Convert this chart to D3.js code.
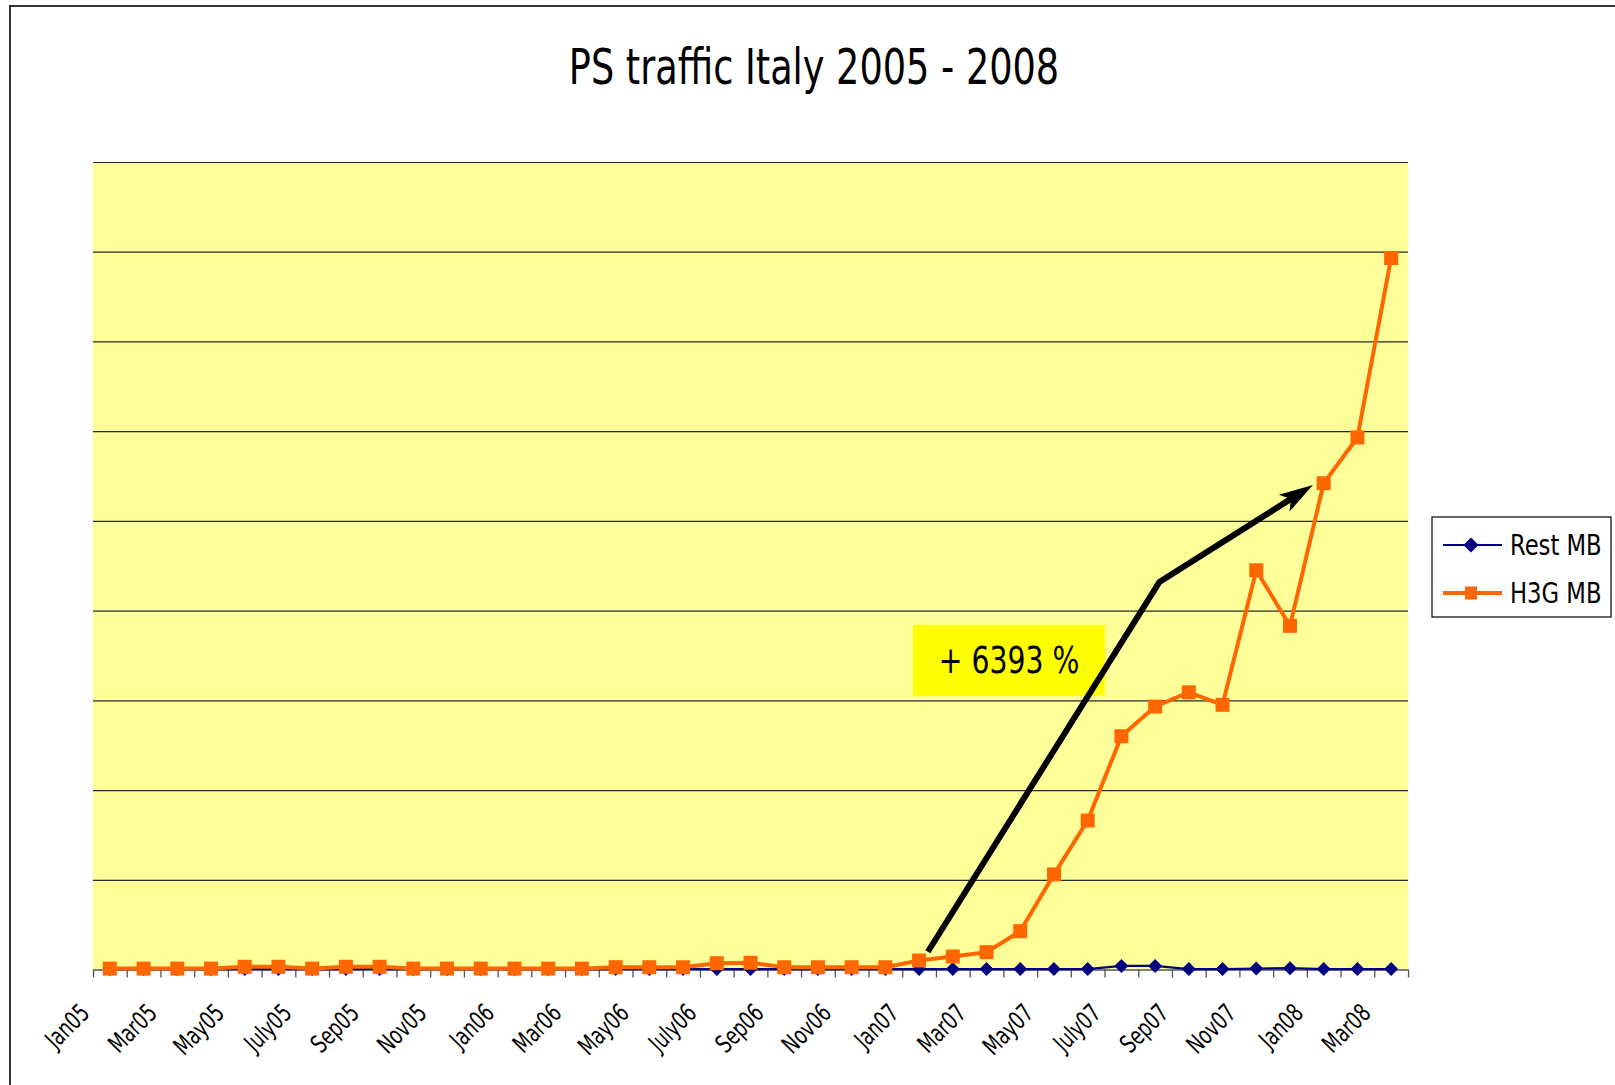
<!DOCTYPE html>
<html>
<head>
<meta charset="utf-8">
<script src="https://cdn.jsdelivr.net/npm/d3@7"></script>
<style>
  html, body { margin: 0; padding: 0; background: #fff; }
  svg { display: block; }
  text { font-family: 'Liberation Sans Narrow', 'DejaVu Sans Condensed', 'Arial Narrow', sans-serif; }
</style>
</head>
<body>
<svg id="chart" width="1615" height="1085"></svg>
<script>
// ---------------- DATA ----------------
const months = [
  "Jan05","Feb05","Mar05","Apr05","May05","Jun05","July05","Aug05","Sep05","Oct05","Nov05","Dec05",
  "Jan06","Feb06","Mar06","Apr06","May06","Jun06","July06","Aug06","Sep06","Oct06","Nov06","Dec06",
  "Jan07","Feb07","Mar07","Apr07","May07","Jun07","July07","Aug07","Sep07","Oct07","Nov07","Dec07",
  "Jan08","Feb08","Mar08"
];
const tickLabels = ["Jan05","Mar05","May05","July05","Sep05","Nov05","Jan06","Mar06","May06","July06",
  "Sep06","Nov06","Jan07","Mar07","May07","July07","Sep07","Nov07","Jan08","Mar08"];
// values in chart units (no y-axis labels on the original; 9 gridline intervals of 100)
const restMB = [
  0.5,0.5,0.5,0.5,0.5,0.5,0.5,0.5,0.5,0.5,0.5,0.5,
  0.5,0.5,0.5,0.5,0.5,0.5,0.5,0.5,0.5,0.5,0.5,0.5,
  0.5,0.5,0.5,0.5,0.5,0.5,4,4,0.5,0.5,1,1.5,
  0.5,0.5,0.5
];
const h3gMB = [
  1,1,1,1,3,3,1,3,3,1,1,1,
  1,1,1,2.5,2.5,2.5,7,7.5,2.5,2.5,2.5,2.5,
  10,14.5,19.3,42.7,106,166,260,293,309,295,445,383,
  542,593,793
];
const yGrid = [100,200,300,400,500,600,700,800,900];
const seriesNames = ["Rest MB","H3G MB"];
const titleText = "PS traffic Italy 2005 - 2008";
const annotationText = "+ 6393 %";
// arrow path in data coordinates: [category position (index units), value]
const arrowPts = [[24.76, 19.8], [31.63, 432], [36.18, 540]];
const annotationCenter = [27.17, 344.6];

// ---------------- LAYOUT ----------------
const svg = d3.select("#chart");
const W = 1615, H = 1085;
const plot = { left: 93, right: 1408, top: 162, bottom: 969.5 };
const colRest = "#000080", colH3G = "#FF6600", plotBg = "#FFFF99";
const NARROW = 0.815;

function squeeze(sel, f) {
  sel.each(function () {
    const L = this.getComputedTextLength();
    this.setAttribute("textLength", (L * f).toFixed(2));
    this.setAttribute("lengthAdjust", "spacingAndGlyphs");
  });
  return sel;
}

const x = d3.scaleBand().domain(months).range([plot.left, plot.right]).padding(0);
const xc = d => x(d) + x.bandwidth() / 2;
const xi = d3.scaleLinear().domain([0, months.length]).range([plot.left, plot.right]);
const y = d3.scaleLinear().domain([0, 900]).range([plot.bottom, plot.top]);

// outer frame (left and top edges visible)
svg.append("path")
  .attr("d", `M10,${H} L10,6 L${W},6`)
  .attr("fill", "none").attr("stroke", "#333").attr("stroke-width", 2);

// title
squeeze(svg.append("text")
  .attr("x", 814).attr("y", 84)
  .attr("text-anchor", "middle")
  .attr("font-size", 50)
  .attr("fill", "#000")
  .text(titleText), NARROW);

// plot background
svg.append("rect")
  .attr("x", plot.left).attr("y", plot.top)
  .attr("width", plot.right - plot.left).attr("height", plot.bottom - plot.top)
  .attr("fill", plotBg);

// gridlines
const grid = svg.append("g")
  .attr("transform", `translate(${plot.left},0)`)
  .call(d3.axisLeft(y).tickValues(yGrid).tickSize(-(plot.right - plot.left)).tickFormat(""));
grid.select(".domain").remove();
grid.selectAll(".tick line").attr("stroke", "#2a2a2a").attr("stroke-width", 1.2);

// x axis line + ticks at category boundaries
const xAxis = svg.append("g")
  .attr("transform", `translate(0,${plot.bottom})`)
  .call(d3.axisBottom(xi).tickValues(d3.range(0, months.length + 1)).tickSize(8).tickSizeOuter(0).tickFormat(""));
xAxis.select(".domain").attr("stroke", "#555").attr("stroke-width", 1.5);
xAxis.selectAll(".tick line").attr("stroke", "#555").attr("stroke-width", 1.3);

// x labels (rotated)
squeeze(svg.append("g").selectAll("text")
  .data(tickLabels)
  .join("text")
  .attr("transform", d => `translate(${x(d) - 2},${plot.bottom + 45}) rotate(-45)`)
  .attr("text-anchor", "end")
  .attr("font-size", 25)
  .attr("fill", "#000")
  .text(d => d), 0.79);

// series
const line = d3.line().x((d, i) => xc(months[i])).y(d => y(d));
const diamond = s => `M0,${-s}L${s},0L0,${s}L${-s},0Z`;

// Rest MB
svg.append("path").datum(restMB)
  .attr("d", line).attr("fill", "none").attr("stroke", colRest).attr("stroke-width", 2.2);
svg.append("g").selectAll("path")
  .data(restMB).join("path")
  .attr("transform", (d, i) => `translate(${xc(months[i])},${y(d)})`)
  .attr("d", diamond(7))
  .attr("fill", colRest);

// H3G MB
svg.append("path").datum(h3gMB)
  .attr("d", line).attr("fill", "none").attr("stroke", colH3G).attr("stroke-width", 4)
  .attr("stroke-linejoin", "round");
svg.append("g").selectAll("rect")
  .data(h3gMB).join("rect")
  .attr("x", (d, i) => xc(months[i]) - 7)
  .attr("y", d => y(d) - 7)
  .attr("width", 14).attr("height", 14)
  .attr("fill", colH3G);

// annotation box
const ac = [xi(annotationCenter[0]), y(annotationCenter[1])];
svg.append("rect")
  .attr("x", ac[0] - 96).attr("y", ac[1] - 35.5)
  .attr("width", 192).attr("height", 71)
  .attr("fill", "#FFFF00");
squeeze(svg.append("text")
  .attr("x", ac[0]).attr("y", ac[1] + 13)
  .attr("text-anchor", "middle")
  .attr("font-size", 37)
  .attr("fill", "#000")
  .text(annotationText), 0.85);

// arrow
const ap = arrowPts.map(p => [xi(p[0]), y(p[1])]);
const tip = ap[2], prev = ap[1];
const dx = tip[0] - prev[0], dy = tip[1] - prev[1];
const len = Math.hypot(dx, dy);
const ux = dx / len, uy = dy / len, px = -uy, py = ux;
const headLen = 34, headHalf = 10, notch = 26;
const notchPt = [tip[0] - ux * notch, tip[1] - uy * notch];
svg.append("path")
  .attr("d", d3.line()([ap[0], ap[1], notchPt]))
  .attr("fill", "none").attr("stroke", "#000").attr("stroke-width", 6)
  .attr("stroke-linejoin", "miter");
svg.append("path")
  .attr("d", d3.line()([
    tip,
    [tip[0] - ux * headLen + px * headHalf, tip[1] - uy * headLen + py * headHalf],
    notchPt,
    [tip[0] - ux * headLen - px * headHalf, tip[1] - uy * headLen - py * headHalf]
  ]) + "Z")
  .attr("fill", "#000");

// legend
const lg = svg.append("g").attr("transform", "translate(1432,517)");
lg.append("rect").attr("width", 179).attr("height", 100)
  .attr("fill", "#fff").attr("stroke", "#000").attr("stroke-width", 1.2);
const lrows = [
  { name: seriesNames[0], color: colRest, y: 28, type: "diamond" },
  { name: seriesNames[1], color: colH3G, y: 76, type: "square" }
];
lrows.forEach(r => {
  lg.append("line").attr("x1", 11).attr("x2", 70).attr("y1", r.y).attr("y2", r.y)
    .attr("stroke", r.color).attr("stroke-width", r.type === "diamond" ? 2 : 4);
  if (r.type === "diamond") {
    lg.append("path").attr("transform", `translate(39,${r.y})`).attr("d", diamond(7.5)).attr("fill", r.color);
  } else {
    lg.append("rect").attr("x", 33).attr("y", r.y - 6.5).attr("width", 12).attr("height", 13).attr("fill", r.color);
  }
  squeeze(lg.append("text").attr("x", 78).attr("y", r.y + 10)
    .attr("font-size", 29).attr("fill", "#000").text(r.name), 0.87);
});
</script>
</body>
</html>
